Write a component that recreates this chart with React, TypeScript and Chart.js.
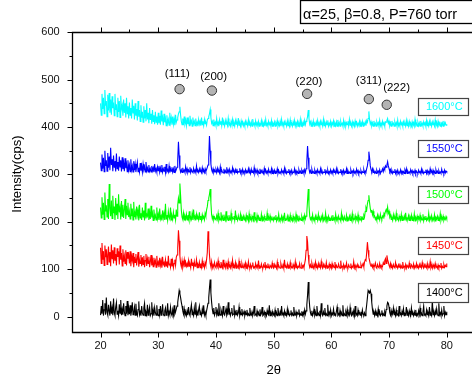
import React, { useEffect, useRef } from 'react';
import { Chart, registerables } from 'chart.js';

Chart.register(...registerables);

// scan grid (2θ from 20 to 80, 0.125° step)
const scanStart = 20;
const scanStep = 0.125;

const series1400 = [
  3, 22, 6, 35, 2, 14, 28, 4, 40, 9,
  3, 25, 12, 2, 32, 6, 18, 3, 38, 8,
  2, 20, 30, 5, 12, 2, 26, 7, 35, 3,
  15, 4, 28, 10, 2, 22, 6, 33, 3, 18,
  5, 24, 2, 12, 30, 4, 8, 20, 3, 27,
  6, 2, 15, 32, 4, 10, 2, 22, 7, 3,
  18, 28, 2, 9, 4, 25, 3, 12, 20, 2,
  6, 30, 4, 14, 2, 19, 8, 3, 24, 5,
  2, 16, 4, 22, 3, 9, 26, 5, 2, 12,
  18, 3, 7, 28, 2, 10, 4, 20, 6, 2,
  14, 3, 24, 5, 10, 16, 22, 30, 42, 55,
  48, 40, 30, 22, 12, 5, 16, 3, 9, 2,
  12, 3, 20, 6, 2, 15, 25, 4, 8, 2,
  18, 5, 30, 3, 10, 2, 14, 22, 4, 7,
  2, 16, 5, 24, 3, 9, 2, 12, 20, 28,
  40, 60, 78, 50, 30, 15, 6, 18, 3, 8,
  20, 4, 12, 2, 28, 6, 3, 15, 9, 2,
  22, 5, 3, 10, 17, 2, 6, 30, 4, 12,
  2, 8, 18, 3, 5, 24, 2, 10, 4, 14,
  3, 7, 20, 2, 9, 4, 16, 3, 6, 11,
  2, 9, 4, 14, 3, 6, 2, 18, 5, 3,
  10, 2, 7, 22, 3, 5, 2, 12, 4, 8,
  2, 15, 3, 6, 20, 2, 4, 10, 3, 7,
  2, 13, 5, 3, 24, 2, 8, 4, 11, 3,
  6, 2, 14, 3, 8, 2, 18, 5, 3, 10,
  2, 22, 4, 7, 2, 12, 3, 6, 2, 16,
  4, 9, 2, 5, 13, 3, 7, 2, 20, 4,
  3, 10, 2, 8, 5, 15, 2, 6, 3, 11,
  3, 9, 2, 14, 5, 12, 25, 45, 73, 40,
  20, 8, 3, 12, 2, 6, 16, 3, 9, 2,
  22, 4, 7, 2, 12, 3, 28, 5, 2, 10,
  4, 18, 3, 6, 2, 25, 4, 9, 3, 14,
  2, 7, 4, 16, 3, 5, 2, 11, 20, 3,
  6, 2, 13, 4, 8, 2, 24, 3, 6, 2,
  10, 4, 15, 2, 7, 3, 19, 5, 2, 9,
  4, 12, 2, 22, 3, 6, 2, 14, 5, 8,
  3, 10, 2, 14, 5, 3, 8, 2, 12, 25,
  40, 55, 52, 50, 55, 48, 30, 15, 5, 9,
  2, 12, 3, 7, 2, 16, 4, 9, 2, 5,
  13, 3, 6, 2, 10, 4, 15, 22, 30, 28,
  20, 8, 3, 12, 2, 6, 18, 4, 9, 2,
  14, 3, 5, 2, 22, 4, 7, 2, 11, 3,
  16, 2, 6, 4, 20, 3, 8, 2, 12, 5,
  2, 18, 4, 7, 2, 10, 3, 14, 2, 6,
  2, 12, 4, 18, 3, 7, 2, 10, 22, 3,
  5, 2, 14, 4, 8, 2, 20, 3, 6, 2,
  35, 4, 9, 2, 12, 3, 16, 5, 2, 28,
  4, 8, 2, 14, 3, 6, 22, 2, 9, 4,
  10,
];

const series1450 = [
  145, 112, 155, 120, 138, 108, 150, 125, 142, 110,
  130, 148, 115, 136, 106, 152, 122, 140, 112, 146,
  118, 132, 108, 144, 126, 138, 110, 150, 120, 134,
  107, 142, 116, 128, 112, 140, 108, 136, 122, 130,
  112, 138, 106, 128, 118, 134, 104, 126, 114, 132,
  108, 122, 136, 105, 120, 112, 130, 106, 125, 110,
  128, 104, 118, 132, 107, 122, 112, 126, 104, 116,
  130, 108, 120, 105, 124, 112, 118, 104, 128, 110,
  115, 104, 124, 108, 118, 103, 126, 110, 114, 104,
  120, 107, 116, 103, 128, 109, 112, 104, 122, 106,
  117, 103, 112, 120, 108, 125, 130, 145, 182, 160,
  128, 112, 105, 118, 103, 110, 120, 104, 114, 106,
  112, 104, 118, 106, 110, 103, 122, 108, 114, 103,
  116, 106, 108, 120, 103, 110, 106, 115, 103, 112,
  104, 118, 106, 110, 103, 114, 108, 120, 135, 180,
  165, 130, 112, 105, 116, 103, 109, 104, 114, 106,
  103, 112, 106, 118, 104, 109, 103, 115, 107, 103,
  120, 105, 110, 103, 113, 106, 103, 116, 104, 108,
  103, 112, 105, 119, 103, 108, 104, 114, 102, 110,
  106, 103, 117, 104, 109, 103, 112, 105, 103, 110,
  104, 113, 102, 108, 103, 116, 105, 103, 110, 102,
  107, 114, 103, 105, 102, 112, 104, 108, 103, 118,
  102, 106, 104, 111, 103, 102, 109, 104, 115, 102,
  107, 103, 112, 104, 102, 108, 105, 103, 113, 104,
  102, 110, 104, 106, 102, 115, 103, 108, 104, 102,
  112, 105, 103, 109, 102, 120, 104, 106, 103, 111,
  102, 107, 104, 114, 102, 105, 103, 110, 104, 102,
  116, 103, 108, 102, 106, 104, 112, 103, 102, 109,
  104, 108, 103, 112, 120, 140, 170, 158, 130, 112,
  104, 109, 103, 113, 106, 102, 110, 104, 115, 103,
  107, 102, 112, 104, 108, 103, 116, 105, 102, 110,
  104, 107, 103, 114, 102, 106, 104, 111, 103, 108,
  102, 112, 104, 107, 103, 115, 102, 108, 104, 103,
  111, 105, 102, 118, 104, 106, 103, 110, 102, 107,
  104, 113, 103, 102, 109, 105, 103, 112, 102, 106,
  104, 116, 103, 108, 102, 105, 110, 103, 107, 104,
  103, 110, 104, 108, 112, 105, 115, 120, 118, 135,
  157, 140, 125, 118, 110, 106, 112, 104, 109, 103,
  107, 113, 104, 102, 110, 105, 103, 112, 104, 108,
  103, 106, 114, 110, 118, 122, 112, 129, 120, 115,
  108, 104, 112, 103, 107, 102, 110, 105, 103, 114,
  104, 106, 102, 109, 104, 112, 103, 107, 102, 115,
  104, 106, 103, 110, 102, 108, 105, 103, 113, 104,
  102, 109, 106, 103, 111, 102, 107, 104, 112, 103,
  106, 102, 110, 104, 108, 103, 114, 105, 102, 109,
  104, 107, 103, 112, 102, 106, 104, 116, 103, 108,
  102, 110, 105, 103, 112, 104, 106, 102, 109, 103,
  107, 104, 113, 102, 106, 103, 110, 104, 108, 105,
  112,
];

const series1500 = [
  230, 208, 252, 215, 240, 205, 262, 222, 235, 210,
  248, 206, 280, 228, 212, 245, 207, 255, 218, 232,
  204, 250, 214, 238, 206, 258, 220, 230, 205, 244,
  212, 236, 208, 226, 248, 206, 234, 215, 240, 210,
  222, 206, 238, 212, 228, 204, 242, 210, 220, 205,
  232, 214, 225, 203, 236, 208, 218, 204, 230, 210,
  224, 203, 240, 207, 216, 212, 228, 204, 220, 206,
  234, 209, 218, 203, 226, 208, 214, 204, 230, 207,
  216, 204, 228, 206, 212, 203, 224, 208, 218, 204,
  238, 206, 214, 203, 222, 210, 206, 230, 204, 212,
  205, 220, 208, 215, 204, 226, 212, 235, 250, 240,
  281, 255, 225, 210, 205, 218, 204, 212, 206, 216,
  204, 214, 206, 222, 203, 210, 205, 218, 204, 226,
  207, 212, 203, 216, 206, 210, 204, 220, 205, 212,
  203, 215, 207, 210, 204, 218, 212, 225, 232, 245,
  250, 258, 269, 240, 215, 206, 212, 204, 210, 206,
  204, 213, 206, 218, 203, 209, 204, 220, 205, 211,
  203, 215, 207, 203, 222, 205, 210, 203, 214, 206,
  204, 218, 203, 209, 206, 212, 203, 224, 205, 208,
  203, 213, 206, 204, 216, 203, 210, 205, 212, 204,
  208, 203, 214, 205, 210, 202, 217, 204, 209, 203,
  212, 206, 203, 220, 204, 208, 202, 214, 205, 211,
  203, 207, 204, 216, 202, 209, 205, 212, 203, 206,
  204, 218, 202, 210, 205, 213, 203, 208, 204, 211,
  203, 209, 205, 214, 202, 208, 204, 216, 203, 207,
  205, 212, 202, 210, 204, 219, 203, 206, 205, 212,
  202, 209, 204, 214, 203, 207, 202, 212, 205, 208,
  203, 216, 204, 210, 202, 213, 205, 207, 203, 211,
  204, 210, 203, 214, 206, 212, 220, 245, 269, 235,
  212, 205, 209, 203, 215, 204, 208, 202, 212, 205,
  209, 203, 216, 204, 207, 202, 211, 205, 214, 203,
  208, 204, 218, 202, 209, 205, 212, 203, 207, 204,
  210, 203, 214, 205, 208, 202, 216, 204, 209, 203,
  212, 205, 207, 202, 218, 204, 209, 203, 211, 205,
  203, 214, 202, 208, 205, 212, 203, 210, 204, 217,
  202, 207, 205, 213, 203, 209, 204, 215, 202, 208,
  204, 212, 203, 209, 205, 214, 210, 222, 230, 225,
  238, 245, 256, 240, 228, 220, 225, 215, 222, 210,
  212, 205, 209, 203, 214, 206, 210, 204, 216, 208,
  205, 212, 209, 218, 215, 222, 226, 220, 231, 218,
  222, 210, 214, 205, 209, 203, 215, 206, 210, 204,
  218, 205, 208, 203, 212, 206, 204, 216, 203, 209,
  205, 212, 203, 219, 204, 208, 206, 213, 203, 210,
  205, 214, 203, 208, 204, 217, 202, 209, 205, 212,
  203, 210, 205, 214, 203, 208, 204, 216, 202, 209,
  205, 212, 203, 207, 204, 218, 203, 210, 205, 213,
  203, 208, 204, 215, 202, 209, 206, 212, 203, 208,
  204, 217, 203, 210, 205, 212, 203, 208, 205, 211,
  206,
];

const series1550 = [
  325, 308, 342, 312, 335, 306, 350, 318, 330, 307,
  345, 314, 338, 309, 356, 320, 332, 307, 340, 315,
  328, 306, 344, 312, 326, 308, 338, 316, 330, 306,
  336, 311, 324, 307, 334, 313, 322, 306, 330, 310,
  320, 306, 332, 310, 318, 305, 328, 309, 322, 305,
  316, 326, 306, 314, 305, 324, 308, 318, 305, 322,
  310, 316, 305, 326, 308, 314, 305, 320, 307, 312,
  305, 318, 308, 314, 305, 322, 307, 312, 305, 316,
  308, 318, 305, 314, 306, 320, 305, 312, 307, 316,
  304, 322, 306, 310, 305, 318, 304, 312, 307, 315,
  305, 312, 304, 318, 306, 310, 315, 330, 369, 340,
  312, 305, 310, 304, 314, 306, 309, 304, 316, 306,
  312, 304, 309, 305, 315, 304, 310, 306, 304, 313,
  305, 309, 304, 318, 305, 308, 304, 312, 306, 309,
  304, 314, 305, 309, 304, 312, 306, 310, 315, 320,
  335, 381, 350, 322, 310, 305, 312, 304, 309, 305,
  310, 304, 313, 305, 308, 303, 316, 304, 309, 305,
  303, 312, 304, 308, 303, 315, 305, 309, 303, 311,
  304, 307, 303, 314, 305, 308, 303, 310, 304, 312,
  303, 306, 305, 313, 303, 308, 304, 311, 303, 307,
  304, 310, 303, 307, 305, 312, 303, 308, 302, 311,
  304, 306, 303, 314, 302, 308, 304, 310, 303, 306,
  302, 312, 304, 308, 303, 306, 302, 313, 304, 309,
  303, 307, 302, 311, 304, 306, 303, 312, 302, 308,
  303, 309, 302, 306, 304, 312, 302, 308, 303, 305,
  302, 310, 304, 307, 302, 313, 303, 308, 302, 306,
  304, 311, 302, 307, 303, 309, 302, 305, 304, 312,
  302, 308, 303, 306, 302, 310, 304, 307, 302, 309,
  304, 308, 302, 310, 304, 312, 328, 360, 335, 312,
  304, 308, 302, 311, 304, 306, 302, 309, 303, 307,
  302, 310, 304, 306, 302, 312, 303, 308, 302, 305,
  304, 311, 302, 307, 303, 309, 302, 306, 304, 310,
  303, 307, 302, 310, 304, 306, 302, 312, 303, 308,
  302, 305, 304, 311, 302, 307, 303, 309, 302, 306,
  304, 312, 302, 308, 303, 305, 302, 310, 304, 307,
  302, 309, 303, 306, 302, 311, 304, 308, 302, 306,
  303, 308, 302, 306, 304, 310, 303, 307, 305, 312,
  318, 330, 348, 335, 318, 310, 306, 312, 304, 308,
  303, 306, 302, 309, 304, 307, 303, 310, 302, 306,
  308, 312, 306, 314, 310, 318, 315, 320, 327, 318,
  312, 306, 310, 303, 308, 302, 306, 304, 311, 302,
  307, 303, 309, 302, 305, 304, 310, 302, 307, 303,
  306, 302, 309, 304, 312, 302, 307, 303, 305, 302,
  310, 304, 308, 302, 306, 303, 309, 302, 307, 304,
  302, 309, 304, 306, 302, 311, 303, 307, 302, 305,
  304, 310, 302, 308, 303, 306, 302, 312, 304, 307,
  302, 309, 303, 306, 302, 310, 304, 307, 302, 308,
  303, 305, 302, 311, 304, 306, 302, 309, 303, 307,
  305,
];

const series1600 = [
  450, 425, 470, 438, 462, 428, 478, 445, 455, 422,
  468, 435, 472, 430, 458, 426, 465, 440, 452, 424,
  470, 436, 448, 422, 462, 432, 455, 420, 466, 438,
  446, 424, 458, 430, 450, 420, 462, 428, 444, 418,
  452, 425, 440, 418, 458, 430, 445, 416, 450, 424,
  438, 414, 455, 422, 436, 412, 446, 420, 432, 410,
  444, 418, 436, 412, 450, 416, 430, 408, 440, 415,
  428, 407, 436, 412, 425, 406, 432, 410, 422, 405,
  430, 408, 424, 405, 435, 412, 420, 404, 428, 410,
  418, 403, 425, 408, 416, 404, 430, 410, 420, 405,
  422, 406, 418, 404, 426, 410, 415, 420, 428, 432,
  443, 425, 412, 405, 418, 404, 422, 407, 414, 403,
  420, 406, 415, 403, 424, 408, 413, 402, 420, 407,
  412, 403, 418, 405, 410, 402, 416, 406, 412, 403,
  420, 405, 412, 403, 416, 407, 410, 404, 415, 418,
  422, 428, 437, 420, 408, 412, 403, 416, 405, 410,
  403, 418, 405, 410, 402, 415, 406, 412, 403, 420,
  405, 409, 402, 414, 406, 410, 403, 418, 404, 408,
  402, 412, 405, 416, 403, 409, 402, 414, 406, 410,
  403, 419, 404, 408, 402, 413, 405, 411, 403, 409,
  402, 412, 405, 408, 402, 415, 404, 409, 403, 411,
  402, 417, 405, 408, 402, 413, 404, 409, 403, 412,
  402, 407, 405, 414, 402, 409, 403, 411, 402, 416,
  404, 408, 402, 412, 405, 409, 403, 414, 402, 408,
  404, 411, 402, 409, 405, 414, 402, 408, 403, 412,
  402, 416, 404, 409, 402, 411, 405, 408, 402, 413,
  403, 409, 402, 415, 404, 408, 402, 411, 403, 414,
  402, 409, 405, 412, 402, 408, 403, 416, 402, 410,
  403, 410, 402, 414, 405, 412, 415, 422, 436, 418,
  406, 411, 402, 409, 404, 413, 402, 408, 405, 411,
  402, 414, 404, 409, 402, 412, 405, 408, 402, 416,
  403, 409, 402, 411, 405, 414, 402, 408, 404, 412,
  402, 409, 405, 413, 402, 408, 403, 411, 402, 415,
  404, 409, 402, 412, 405, 408, 402, 414, 403, 410,
  402, 409, 405, 412, 402, 416, 404, 408, 402, 411,
  403, 409, 402, 413, 405, 410, 402, 408, 404, 412,
  402, 409, 404, 412, 402, 408, 405, 411, 403, 414,
  410, 418, 433, 415, 406, 411, 403, 409, 402, 413,
  404, 408, 402, 411, 405, 409, 402, 414, 403, 408,
  402, 412, 405, 409, 402, 411, 410, 414, 418, 408,
  412, 403, 409, 402, 413, 405, 408, 402, 411, 404,
  409, 402, 415, 403, 408, 402, 412, 405, 409, 402,
  411, 404, 408, 402, 414, 403, 409, 402, 412, 405,
  408, 402, 411, 403, 409, 402, 416, 404, 408, 402,
  410, 403, 409, 402, 413, 404, 408, 402, 411, 405,
  409, 402, 414, 403, 408, 402, 412, 404, 409, 402,
  411, 405, 408, 402, 415, 403, 409, 402, 412, 404,
  408, 402, 411, 403, 409, 402, 413, 405, 409, 404,
  406,
];

const seriesValues = [series1400, series1450, series1500, series1550, series1600];
const seriesLabels = ['1400°C', '1450°C', '1500°C', '1550°C', '1600°C'];
const seriesColors = ['#000000', '#ff0000', '#00ff00', '#0000ff', '#00ffff'];
const labelBoxX = 79.4;
const labelBoxY = [50, 150, 258, 354, 444];

const xTickValues = [20, 30, 40, 50, 60, 70, 80];
const xMinorTicks = [25, 35, 45, 55, 65, 75];
const yTickValues = [0, 100, 200, 300, 400, 500, 600];
const yMinorTicks = [50, 150, 250, 350, 450, 550];

const peakNames = ['(111)', '(200)', '(220)', '(311)', '(222)'];
const peakMarkX = [33.7, 39.3, 55.8, 66.5, 69.6];
const peakMarkY = [480, 477, 470, 459, 447];
const peakTextX = [33.3, 39.6, 56.1, 66.5, 71.3];
const peakTextY = [512, 506, 496, 498, 482];

const conditionText = 'α=25, β=0.8, P=760 torr';
const xTitle = '2θ';
const yTitle = 'Intensity(cps)';

const FONT = '"Liberation Sans", Arial, sans-serif';

const decor = {
  id: 'decor',
  afterDraw(chart: any) {
    const { ctx, chartArea: a, scales } = chart;
    const x = scales.x;
    const y = scales.y;
    const L = Math.round(a.left) + 0.5;
    const R = Math.round(a.right) + 0.5;
    const T = Math.round(a.top) + 0.5;
    const B = Math.round(a.bottom) + 0.5;
    ctx.save();
    ctx.strokeStyle = '#000';
    ctx.lineWidth = 1.3;
    ctx.beginPath();
    ctx.moveTo(L, T); ctx.lineTo(R, T); ctx.lineTo(R, B); ctx.lineTo(L, B); ctx.closePath();
    ctx.stroke();
    ctx.lineWidth = 1;
    ctx.beginPath();
    xTickValues.forEach((v) => {
      const p = Math.round(x.getPixelForValue(v)) + 0.5;
      ctx.moveTo(p, B); ctx.lineTo(p, B + 5);
      ctx.moveTo(p, T); ctx.lineTo(p, T - 5);
    });
    xMinorTicks.forEach((v) => {
      const p = Math.round(x.getPixelForValue(v)) + 0.5;
      ctx.moveTo(p, B); ctx.lineTo(p, B + 3);
      ctx.moveTo(p, T); ctx.lineTo(p, T - 3);
    });
    yTickValues.forEach((v) => {
      const p = Math.round(y.getPixelForValue(v)) + 0.5;
      ctx.moveTo(L, p); ctx.lineTo(L - 5, p);
      ctx.moveTo(R, p); ctx.lineTo(R + 5, p);
    });
    yMinorTicks.forEach((v) => {
      const p = Math.round(y.getPixelForValue(v)) + 0.5;
      ctx.moveTo(L, p); ctx.lineTo(L - 3, p);
      ctx.moveTo(R, p); ctx.lineTo(R + 3, p);
    });
    ctx.stroke();

    // peak markers
    ctx.font = `11.5px ${FONT}`;
    ctx.textAlign = 'center';
    ctx.textBaseline = 'middle';
    peakNames.forEach((name, i) => {
      const cx = x.getPixelForValue(peakMarkX[i]);
      const cy = y.getPixelForValue(peakMarkY[i]);
      ctx.beginPath();
      ctx.arc(cx, cy, 4.7, 0, Math.PI * 2);
      ctx.fillStyle = '#b4b4b4';
      ctx.fill();
      ctx.strokeStyle = '#333';
      ctx.lineWidth = 1;
      ctx.stroke();
      ctx.fillStyle = '#000';
      ctx.fillText(name, x.getPixelForValue(peakTextX[i]), y.getPixelForValue(peakTextY[i]));
    });

    // temperature label boxes
    ctx.font = `11px ${FONT}`;
    seriesLabels.forEach((lab, i) => {
      const cx = x.getPixelForValue(labelBoxX);
      const cy = y.getPixelForValue(labelBoxY[i]);
      const w = 50, h = i === 0 ? 19 : 17;
      ctx.fillStyle = '#fff';
      ctx.fillRect(cx - w / 2, cy - h / 2, w, h);
      ctx.strokeStyle = '#444';
      ctx.lineWidth = 1.2;
      ctx.strokeRect(Math.round(cx - w / 2) + 0.5, Math.round(cy - h / 2) + 0.5, w, h);
      ctx.fillStyle = seriesColors[i];
      ctx.fillText(lab, cx + 1, cy + 0.5);
    });

    // condition box
    ctx.strokeStyle = '#000';
    ctx.lineWidth = 1.3;
    ctx.strokeRect(300.5, 0.5, 200, 23);
    ctx.fillStyle = '#000';
    ctx.font = `14.5px ${FONT}`;
    ctx.textAlign = 'left';
    ctx.textBaseline = 'alphabetic';
    ctx.fillText(conditionText, 303, 19);

    // axis titles
    ctx.font = `13px ${FONT}`;
    ctx.textAlign = 'center';
    ctx.textBaseline = 'middle';
    ctx.fillText(xTitle, (a.left + a.right) / 2, 370);
    ctx.save();
    ctx.translate(17, 174);
    ctx.rotate(-Math.PI / 2);
    ctx.fillText(yTitle, 0, 0);
    ctx.restore();
    ctx.restore();
  },
};

export default function App() {
  const ref = useRef<HTMLCanvasElement>(null);
  useEffect(() => {
    if (!ref.current) return;
    const chart = new Chart(ref.current, {
      type: 'line',
      data: {
        datasets: seriesValues.map((vals, k) => ({
          label: seriesLabels[k],
          data: vals.map((v, i) => ({ x: scanStart + i * scanStep, y: v })),
          borderColor: seriesColors[k],
          backgroundColor: seriesColors[k],
          borderWidth: 1.1,
          borderJoinStyle: 'miter',
          pointRadius: 0,
          fill: false,
          tension: 0,
        })),
      },
      options: {
        responsive: false,
        animation: false,
        devicePixelRatio: 1,
        parsing: false,
        normalized: true,
        layout: { padding: { left: 0, right: 4.4, top: 32.3, bottom: 0 } },
        plugins: { legend: { display: false }, tooltip: { enabled: false } },
        scales: {
          x: {
            type: 'linear',
            min: 15,
            max: 85,
            grid: { display: false, drawTicks: false },
            border: { display: false },
            afterBuildTicks: (s: any) => { s.ticks = xTickValues.map((v) => ({ value: v })); },
            afterFit: (s: any) => { s.height = 46.3; },
            ticks: { padding: 8, color: '#111', maxRotation: 0, autoSkip: false, font: { family: FONT, size: 11 } },
          },
          y: {
            type: 'linear',
            min: -32,
            max: 600,
            grid: { display: false, drawTicks: false },
            border: { display: false },
            afterBuildTicks: (s: any) => { s.ticks = yTickValues.map((v) => ({ value: v })); },
            afterFit: (s: any) => { s.width = 71.7; },
            ticks: { padding: 12, color: '#111', autoSkip: false, font: { family: FONT, size: 11 } },
          },
        },
      } as any,
      plugins: [decor],
    });
    return () => chart.destroy();
  }, []);
  return (
    <div style={{ position: 'fixed', left: 0, top: 0, width: 472, height: 378, overflow: 'hidden', background: '#fff' }}>
      <canvas ref={ref} width={480} height={378} style={{ display: 'block', width: 480, height: 378 }} />
    </div>
  );
}
